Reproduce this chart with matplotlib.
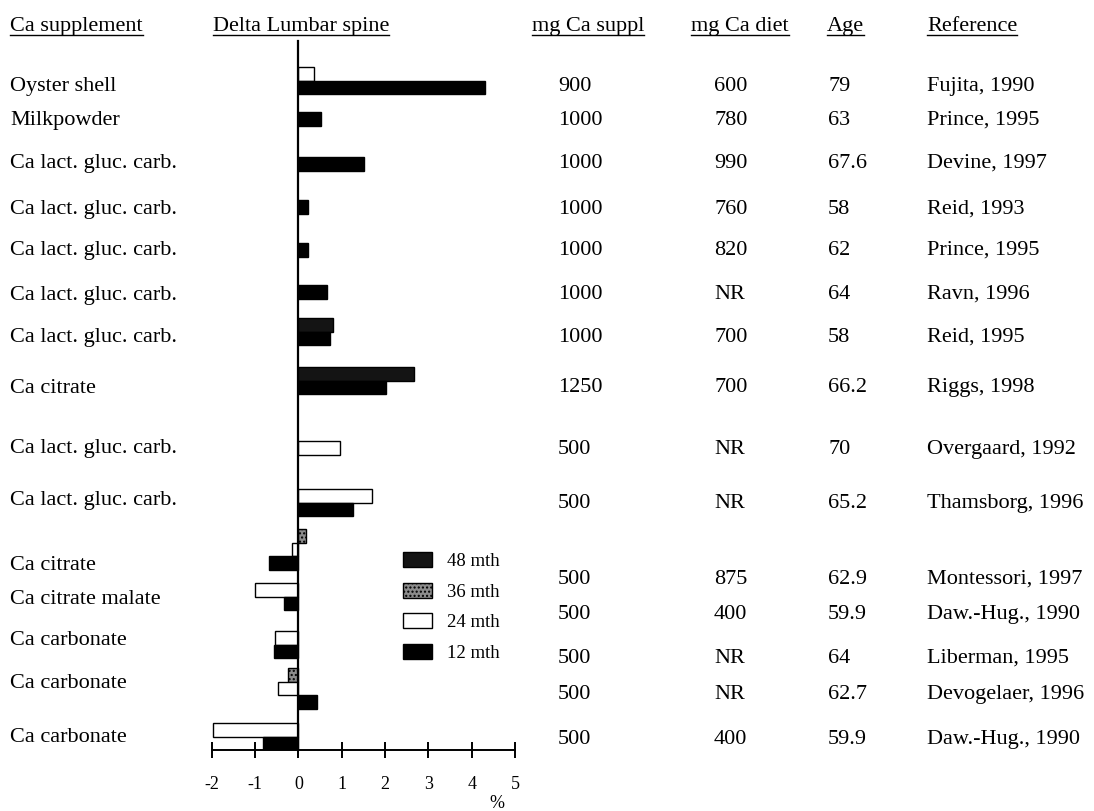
import numpy as np
import matplotlib
matplotlib.use("Agg")
import matplotlib.pyplot as plt
from matplotlib.lines import Line2D

plt.rcParams['font.family'] = ['Liberation Serif', 'DejaVu Serif']

# ---------------- data ----------------
supplements = ["Oyster shell", "Milkpowder", "Ca lact. gluc. carb.", "Ca lact. gluc. carb.",
               "Ca lact. gluc. carb.", "Ca lact. gluc. carb.", "Ca lact. gluc. carb.", "Ca citrate",
               "Ca lact. gluc. carb.", "Ca lact. gluc. carb.", "Ca citrate", "Ca citrate malate",
               "Ca carbonate", "Ca carbonate", "Ca carbonate"]
mg_suppl = ["900", "1000", "1000", "1000", "1000", "1000", "1000", "1250",
            "500", "500", "500", "500", "500", "500", "500"]
mg_diet = ["600", "780", "990", "760", "820", "NR", "700", "700",
           "NR", "NR", "875", "400", "NR", "NR", "400"]
age = ["79", "63", "67.6", "58", "62", "64", "58", "66.2",
       "70", "65.2", "62.9", "59.9", "64", "62.7", "59.9"]
references = ["Fujita, 1990", "Prince, 1995", "Devine, 1997", "Reid, 1993", "Prince, 1995",
              "Ravn, 1996", "Reid, 1995", "Riggs, 1998", "Overgaard, 1992", "Thamsborg, 1996",
              "Montessori, 1997", "Daw.-Hug., 1990", "Liberman, 1995", "Devogelaer, 1996",
              "Daw.-Hug., 1990"]

nan = np.nan
delta_48 = [nan, nan, nan, nan, nan, nan, 0.80, 2.68, nan, nan, nan, nan, nan, nan, nan]
delta_36 = [nan, nan, nan, nan, nan, nan, nan, nan, nan, nan, 0.17, nan, nan, -0.25, nan]
delta_24 = [0.35, nan, nan, nan, nan, nan, nan, nan, 0.97, 1.71, -0.15, -0.99, -0.55, -0.46, -1.98]
delta_12 = [4.30, 0.53, 1.52, 0.22, 0.22, 0.67, 0.74, 2.03, nan, 1.25, -0.67, -0.32, -0.57, 0.42, -0.82]

series_labels = ["48 mth", "36 mth", "24 mth", "12 mth"]
x_ticks = [-2, -1, 0, 1, 2, 3, 4, 5]

# ---------------- layout (pixel rows from top) ----------------
W, H = 1094, 811
group_top = [67, 112, 157, 200, 243, 285, 318, 367, 441, 489, 529, 583, 631, 668, 723]
bar_h = 13.6
left_rows = [84, 118, 161, 207, 248, 293, 335, 386, 446, 498, 563, 597, 638, 681, 735]
right_rows = [84, 118, 161, 207, 248, 292, 335, 385, 447, 501, 577, 612, 656, 692, 737]
col_x = {"supp": 10, "suppl": 558, "diet": 714, "age": 828, "ref": 927}
fs = 16

fig = plt.figure(figsize=(W / 100, H / 100), dpi=100)
fig.patch.set_facecolor("white")

def fx(x):
    return x / W

def fy(y):
    return 1 - y / H

ax_left, ax_right, ax_top, ax_bottom = 211.7, 515.0, 41, 750
ax = fig.add_axes([fx(ax_left), fy(ax_bottom), (ax_right - ax_left) / W, (ax_bottom - ax_top) / H])
ax.set_xlim(x_ticks[0], x_ticks[-1])
ax.set_ylim(ax_bottom, ax_top)

styles = [
    dict(facecolor="#141414", edgecolor="black"),
    dict(facecolor="#8c8c8c", edgecolor="black", hatch="...."),
    dict(facecolor="white", edgecolor="black"),
    dict(facecolor="black", edgecolor="black"),
]
all_series = [delta_48, delta_36, delta_24, delta_12]

# bar centres: bars present in each group stacked from the group top
centres = [[nan] * len(supplements) for _ in all_series]
for i in range(len(supplements)):
    k = 0
    for s, vals in enumerate(all_series):
        if not np.isnan(vals[i]):
            centres[s][i] = group_top[i] + bar_h * (k + 0.5)
            k += 1

handles = []
for s, vals in enumerate(all_series):
    v = np.array(vals, dtype=float)
    c = np.array(centres[s], dtype=float)
    m = ~np.isnan(v)
    b = ax.barh(c[m], v[m], height=bar_h, linewidth=1.0, label=series_labels[s], **styles[s])
    handles.append(b)

for side in ["top", "right"]:
    ax.spines[side].set_visible(False)
ax.spines["left"].set_position(("data", 0))
ax.spines["left"].set_linewidth(1.6)
ax.spines["bottom"].set_linewidth(1.4)
ax.set_yticks([])
ax.set_xticks(x_ticks)
ax.set_xticklabels([str(t) for t in x_ticks])
ax.tick_params(axis="x", direction="inout", length=11, width=1.4, pad=13, labelsize=13)
ax.set_facecolor("none")

leg = fig.legend(handles=handles, labels=series_labels, loc="upper left",
                 bbox_to_anchor=(fx(403), fy(552)), frameon=False, fontsize=13.5,
                 handlelength=1.55, handleheight=0.85, handletextpad=0.8,
                 labelspacing=0.68, borderpad=0, borderaxespad=0)

fig.text(fx(497), fy(804), "%", fontsize=13, ha="center", va="center")

# ---------------- headers ----------------
headers = [("Ca supplement", 10), ("Delta Lumbar spine", 213), ("mg Ca suppl", 532),
           ("mg Ca diet", 691), ("Age", 827), ("Reference", 927)]
hdr_texts = []
for txt, x in headers:
    t = fig.text(fx(x), fy(31), txt, fontsize=fs, ha="left", va="baseline")
    hdr_texts.append(t)

# ---------------- table columns ----------------
for i in range(len(supplements)):
    fig.text(fx(col_x["supp"]), fy(left_rows[i]), supplements[i], fontsize=fs, ha="left", va="center_baseline")
    fig.text(fx(col_x["suppl"]), fy(right_rows[i]), mg_suppl[i], fontsize=fs, ha="left", va="center_baseline")
    fig.text(fx(col_x["diet"]), fy(right_rows[i]), mg_diet[i], fontsize=fs, ha="left", va="center_baseline")
    fig.text(fx(col_x["age"]), fy(right_rows[i]), age[i], fontsize=fs, ha="left", va="center_baseline")
    fig.text(fx(col_x["ref"]), fy(right_rows[i]), references[i], fontsize=fs, ha="left", va="center_baseline")

# underline headers
fig.canvas.draw()
r = fig.canvas.get_renderer()
inv = fig.transFigure.inverted()
for t in hdr_texts:
    bb = t.get_window_extent(renderer=r)
    x0, _ = inv.transform((bb.x0, 0))
    x1, _ = inv.transform((bb.x1, 0))
    fig.add_artist(Line2D([x0, x1], [fy(35), fy(35)], color="black", linewidth=1.0))

fig.savefig("out.png", dpi=100, facecolor="white")
